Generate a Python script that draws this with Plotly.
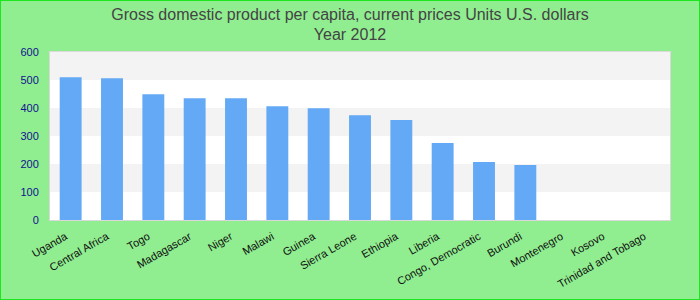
import plotly.graph_objects as go

countries = ["Uganda", "Central Africa", "Togo", "Madagascar", "Niger", "Malawi",
             "Guinea", "Sierra Leone", "Ethiopia", "Liberia", "Congo, Democratic",
             "Burundi", "Montenegro", "Kosovo", "Trinidad and Tobago"]
gdp_per_capita = [510, 506, 449, 435, 435, 406, 399, 374, 357, 275, 207, 196,
                  None, None, None]
y_ticks = [0, 100, 200, 300, 400, 500, 600]
band_ranges = [(100, 200), (300, 400), (500, 600)]

title_text = ("Gross domestic product per capita, current prices Units U.S. dollars"
              "<br>Year 2012")

W, H = 700, 300
ml, mr, mt, mb = 50, 30, 52, 80
pw, ph = W - ml - mr, H - mt - mb

# rotated labels end slightly before the tick (emulated with trailing no-break spaces)
tick_text = [c + "\u00a0\u00a0" for c in countries]

fig = go.Figure()
fig.add_trace(go.Bar(
    x=countries, y=gdp_per_capita,
    marker=dict(color="#63a9f5", line=dict(width=0)),
    width=0.53,
    hoverinfo="x+y",
))

shapes = []
for lo, hi in band_ranges:
    shapes.append(dict(type="rect", xref="paper", yref="y", x0=0, x1=1, y0=lo, y1=hi,
                       fillcolor="#f3f3f3", line=dict(width=0), layer="below"))
# outer green border of the whole chart
shapes.append(dict(type="rect", xref="paper", yref="paper",
                   x0=-ml / pw, x1=1 + mr / pw, y0=-mb / ph, y1=1 + mt / ph,
                   line=dict(color="#1ee61e", width=2), fillcolor="rgba(0,0,0,0)",
                   layer="above"))

fig.update_layout(
    width=W, height=H,
    margin=dict(l=ml, r=mr, t=mt, b=mb, pad=0, autoexpand=False),
    paper_bgcolor="#90ee90",
    plot_bgcolor="white",
    font=dict(family="Liberation Sans, Arial, sans-serif"),
    title=dict(text=title_text, x=0.5, xanchor="center", xref="container",
               y=0.935, yanchor="top", yref="container",
               font=dict(size=16, color="#444444")),
    showlegend=False,
    shapes=shapes,
    bargap=0.47,
    xaxis=dict(
        tickangle=-30, tickfont=dict(size=11, color="#111111"),
        tickmode="array", tickvals=countries, ticktext=tick_text,
        showgrid=False, showline=True, linecolor="#d9d9d9", linewidth=1, mirror=True,
        ticks="", ticklabelstandoff=2, fixedrange=True, automargin=False,
    ),
    yaxis=dict(
        range=[0, 600], tickvals=y_ticks, tickfont=dict(size=11, color="#12128f"),
        showgrid=False, zeroline=False, showline=True, linecolor="#d9d9d9",
        linewidth=1, mirror=True, ticks="", ticklabelstandoff=8, fixedrange=True,
        automargin=False,
    ),
)

fig.write_html("out.html")
